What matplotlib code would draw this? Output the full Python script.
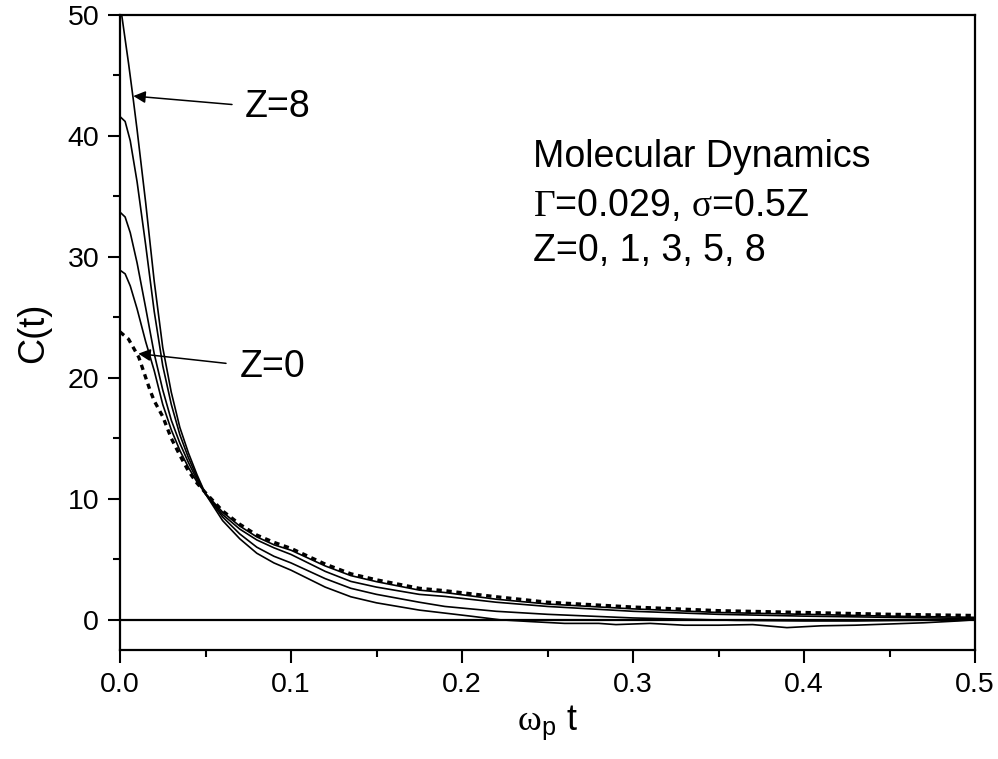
import matplotlib
matplotlib.use("Agg")
import matplotlib.pyplot as plt
from matplotlib.ticker import MultipleLocator

plt.rcParams['font.family'] = ['Liberation Sans', 'DejaVu Sans']
plt.rcParams['mathtext.fontset'] = 'custom'
plt.rcParams['mathtext.rm'] = 'Liberation Serif'
plt.rcParams['mathtext.sf'] = 'Liberation Sans'
plt.rcParams['mathtext.it'] = 'Liberation Serif:italic'

# ---- data ----
t_z0 = [0.0, 0.005, 0.011, 0.0175, 0.02, 0.025, 0.03, 0.035, 0.04, 0.045, 0.05, 0.06, 0.07,
        0.08, 0.09, 0.1, 0.12, 0.135, 0.15, 0.175, 0.19, 0.22, 0.25, 0.3, 0.35, 0.4, 0.45, 0.5]
c_z0 = [23.8, 23.2, 21.7, 19.0, 18.1, 16.8, 15.0, 13.6, 12.3, 11.3, 10.5, 9.0, 7.9,
        7.0, 6.4, 5.9, 4.6, 3.8, 3.3, 2.6, 2.4, 1.9, 1.45, 1.05, 0.75, 0.6, 0.45, 0.35]

t_z1 = [0.0, 0.003, 0.006, 0.01, 0.015, 0.02, 0.025, 0.03, 0.035, 0.04, 0.045, 0.05, 0.06,
        0.07, 0.08, 0.09, 0.1, 0.12, 0.135, 0.15, 0.175, 0.19, 0.22, 0.25, 0.3, 0.35, 0.4,
        0.45, 0.5]
c_z1 = [28.9, 28.6, 27.6, 25.7, 23.0, 20.6, 17.8, 15.7, 14.0, 12.6, 11.4, 10.45, 8.9,
        7.75, 6.85, 6.2, 5.75, 4.45, 3.65, 3.15, 2.45, 2.25, 1.7, 1.3, 0.9, 0.6, 0.45,
        0.3, 0.2]

t_z3 = [0.0, 0.003, 0.006, 0.01, 0.015, 0.02, 0.025, 0.03, 0.035, 0.04, 0.045, 0.05,
        0.06, 0.07, 0.08, 0.09, 0.1, 0.12, 0.135, 0.15, 0.175, 0.19, 0.22, 0.25, 0.3,
        0.35, 0.4, 0.45, 0.5]
c_z3 = [33.7, 33.3, 32.0, 29.5, 25.8, 22.0, 19.0, 16.5, 14.6, 13.0, 11.6, 10.4,
        8.7, 7.5, 6.6, 5.95, 5.4, 4.0, 3.17, 2.7, 2.1, 1.93, 1.45, 1.1, 0.7,
        0.45, 0.3, 0.2, 0.1]

t_z5 = [0.0, 0.003, 0.006, 0.01, 0.015, 0.02, 0.025, 0.03, 0.035, 0.04, 0.045, 0.05,
        0.06, 0.07, 0.08, 0.09, 0.1, 0.12, 0.135, 0.15, 0.175, 0.19, 0.22, 0.25, 0.3,
        0.33, 0.36, 0.4, 0.43, 0.46, 0.5]
c_z5 = [41.6, 41.2, 39.6, 36.2, 31.0, 25.5, 21.0, 17.8, 15.3, 13.4, 11.8, 10.4,
        8.5, 7.1, 6.0, 5.25, 4.7, 3.4, 2.6, 2.1, 1.45, 1.1, 0.7, 0.45, 0.15,
        0.05, -0.05, -0.1, -0.1, -0.05, 0.0]

t_z8 = [0.0, 0.005, 0.0076, 0.01, 0.015, 0.02, 0.025, 0.03, 0.035, 0.04, 0.045, 0.05,
        0.06, 0.07, 0.08, 0.09, 0.1, 0.12, 0.135, 0.15, 0.175, 0.19, 0.205, 0.222, 0.24,
        0.26, 0.28, 0.29, 0.31, 0.33, 0.35, 0.37, 0.39, 0.41, 0.43, 0.45, 0.47, 0.49, 0.5]
c_z8 = [51.0, 46.0, 43.2, 40.5, 34.5, 28.0, 22.5, 18.8, 15.9, 13.8, 12.0, 10.4,
        8.2, 6.7, 5.5, 4.7, 4.1, 2.7, 1.9, 1.4, 0.8, 0.55, 0.3, 0.0, -0.15,
        -0.3, -0.3, -0.4, -0.3, -0.45, -0.45, -0.4, -0.65, -0.5, -0.45, -0.35, -0.25, -0.1, 0.0]

x_ticks = [0.0, 0.1, 0.2, 0.3, 0.4, 0.5]
x_tick_labels = ['0.0', '0.1', '0.2', '0.3', '0.4', '0.5']
y_ticks = [0, 10, 20, 30, 40, 50]
y_tick_labels = ['0', '10', '20', '30', '40', '50']

# ---- figure ----
fig = plt.figure(figsize=(9.98, 7.59), dpi=100)
ax = fig.add_axes([120/998, 1 - 650/759, 855/998, 635/759])

ax.axhline(0, color='black', lw=1.6, zorder=1)
lw = 1.2
ax.plot(t_z0, c_z0, color='black', lw=2.4, ls=(0, (1.6, 1.4)), zorder=3)
ax.plot(t_z1, c_z1, color='black', lw=lw, zorder=2)
ax.plot(t_z3, c_z3, color='black', lw=lw, zorder=2)
ax.plot(t_z5, c_z5, color='black', lw=lw, zorder=2)
ax.plot(t_z8, c_z8, color='black', lw=lw, zorder=2)

ax.set_xlim(0, 0.5)
ax.set_ylim(-2.5, 50)
ax.set_xticks(x_ticks)
ax.set_xticklabels(x_tick_labels)
ax.set_yticks(y_ticks)
ax.set_yticklabels(y_tick_labels)
ax.xaxis.set_minor_locator(MultipleLocator(0.05))
ax.yaxis.set_minor_locator(MultipleLocator(5))
ax.tick_params(which='major', direction='out', length=9, width=1.5, labelsize=20.5, pad=6)
ax.tick_params(which='minor', direction='out', length=5, width=1.5)
ax.tick_params(axis='x', which='major', pad=7)
for s in ax.spines.values():
    s.set_linewidth(1.6)

ax.set_ylabel('C(t)', fontsize=26, labelpad=12)
ax.set_xlabel(r'$\mathrm{\omega}_{\mathsf{p}}$ t', fontsize=26, labelpad=4)

# annotations: arrows and labels
arrow_kw = dict(arrowstyle='-|>', color='black', lw=1.1, mutation_scale=18,
                shrinkA=0, shrinkB=0)
ax.annotate('', xy=(0.0078, 43.3), xytext=(0.0655, 42.6), arrowprops=arrow_kw)
ax.annotate('', xy=(0.0107, 22.0), xytext=(0.0620, 21.2), arrowprops=arrow_kw)
ax.text(0.0731, 42.4, 'Z=8', fontsize=27, ha='left', va='center')
ax.text(0.0702, 20.9, 'Z=0', fontsize=27, ha='left', va='center')

ax.text(0.2415, 38.3, 'Molecular Dynamics', fontsize=27, ha='left', va='center')
ax.text(0.2415, 34.2, r'$\mathrm{\Gamma}$=0.029, $\mathrm{\sigma}$=0.5Z', fontsize=27,
        ha='left', va='center')
ax.text(0.2415, 30.5, 'Z=0, 1, 3, 5, 8', fontsize=27, ha='left', va='center')

fig.savefig('out.png', dpi=100)
